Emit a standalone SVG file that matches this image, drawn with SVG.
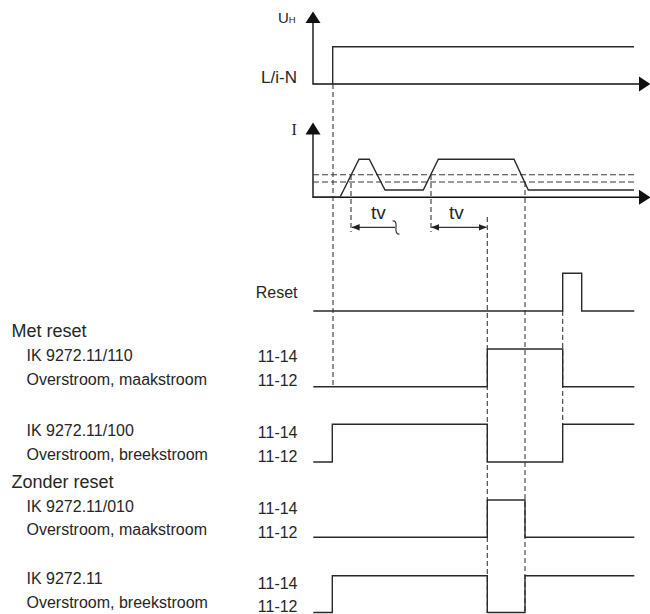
<svg xmlns="http://www.w3.org/2000/svg" width="650" height="614" viewBox="0 0 650 614">
<style>
text{font-family:"Liberation Sans",Arial,sans-serif;fill:#262626;font-size:16px}
.h{font-size:18px}
.r{text-anchor:end}
.sig{fill:none;stroke:#2a2a2a;stroke-width:1.4}
.ax{fill:none;stroke:#111;stroke-width:1.4}
.dash{fill:none;stroke:#3a3a3a;stroke-width:1.1;stroke-dasharray:5,3}
.thr{fill:none;stroke:#3a3a3a;stroke-width:1.1;stroke-dasharray:6,3}
.tip{fill:#111}
.tv{fill:none;stroke:#333;stroke-width:1.2}
</style>
<defs>
<marker id="sa" viewBox="0 0 10 8" refX="9.5" refY="4" markerWidth="8" markerHeight="7" markerUnits="userSpaceOnUse" orient="auto-start-reverse">
<path d="M0,0 L10,4 L0,8 Z" fill="#222"/>
</marker>
</defs>

<g id="connectors">
<path class="dash" d="M333 84 V386.7"/>
<path class="dash" d="M351 175 V232"/>
<path class="dash" d="M431 175 V232"/>
<path class="dash" d="M487.3 217 V613"/>
<path class="dash" d="M525 182 V613"/>
<path class="dash" d="M562.7 311 V424"/>
</g>

<g id="axis-uh">
<path class="ax" d="M313 22 V84 H641"/>
<path class="tip" d="M305.5 23 L313 11.5 L320.5 23 Z"/>
<path class="tip" d="M639 76.5 L650.5 84 L639 91.5 Z"/>
<text x="278" y="22.5" style="font-size:15px">U<tspan style="font-size:9.5px">H</tspan></text>
<text class="r" x="297" y="83" style="font-size:17px">L/i-N</text>
<path class="sig" d="M332.7 84 V46.7 H634"/>
</g>

<g id="axis-i">
<path class="ax" d="M313 134 V197.3 H641"/>
<path class="tip" d="M305.5 134.5 L313 122.5 L320.5 134.5 Z"/>
<path class="tip" d="M639 189.8 L650.5 197.3 L639 204.8 Z"/>
<text x="291.5" y="135" style="font-family:'Liberation Serif',serif;font-size:16px">I</text>
<path class="thr" d="M313 174.7 H634"/>
<path class="thr" d="M313 182 H634"/>
<path class="sig" d="M313 197.3 H340 L359 159.3 H369.3 L385 190 H423.3 L438.3 159.3 H514 L528.3 190 H634"/>
</g>

<g id="tv1">
<path class="tv" d="M352 227.3 H395" marker-start="url(#sa)"/>
<path class="tv" d="M392.5 221 C395.5 220 396.5 223 396 227.3 C395.5 231.5 396.5 234.5 399.5 234"/>
<text x="371" y="218.5" style="font-size:19px">tv</text>
</g>
<g id="tv2">
<path class="tv" d="M431.5 227.3 H486.5" marker-start="url(#sa)" marker-end="url(#sa)"/>
<text x="449" y="218.5" style="font-size:19px">tv</text>
</g>

<g id="reset">
<text class="r" x="297.5" y="297.5">Reset</text>
<path class="sig" d="M313.3 311 H562.7 V273.3 H581.7 V311 H634.3"/>
</g>

<g id="met-reset">
<text class="h" x="11.5" y="336.5">Met reset</text>
</g>

<g id="ik-110">
<text x="26.5" y="361">IK 9272.11/110</text>
<text x="26.5" y="385">Overstroom, maakstroom</text>
<text class="r" x="297.5" y="361.5">11-14</text>
<text class="r" x="297.5" y="386">11-12</text>
<path class="sig" d="M313.3 386.7 H487.3 V349 H562.7 V386.7 H634.3"/>
</g>

<g id="ik-100">
<text x="26.5" y="435.5">IK 9272.11/100</text>
<text x="26.5" y="460">Overstroom, breekstroom</text>
<text class="r" x="297.5" y="438">11-14</text>
<text class="r" x="297.5" y="462">11-12</text>
<path class="sig" d="M313.3 462 H332.3 V424.3 H487.3 V462 H562.7 V424.3 H634.3"/>
</g>

<g id="zonder-reset">
<text class="h" x="11.5" y="487.5">Zonder reset</text>
</g>

<g id="ik-010">
<text x="26.5" y="511.5">IK 9272.11/010</text>
<text x="26.5" y="535">Overstroom, maakstroom</text>
<text class="r" x="297.5" y="514">11-14</text>
<text class="r" x="297.5" y="537.5">11-12</text>
<path class="sig" d="M313.3 537.3 H487.3 V500 H525 V537.3 H634.3"/>
</g>

<g id="ik-11">
<text x="26.5" y="584">IK 9272.11</text>
<text x="26.5" y="608">Overstroom, breekstroom</text>
<text class="r" x="297.5" y="589">11-14</text>
<text class="r" x="297.5" y="611.5">11-12</text>
<path class="sig" d="M313.3 612.5 H332.3 V575.7 H487.3 V612.5 H525 V575.7 H634.3"/>
</g>
</svg>
